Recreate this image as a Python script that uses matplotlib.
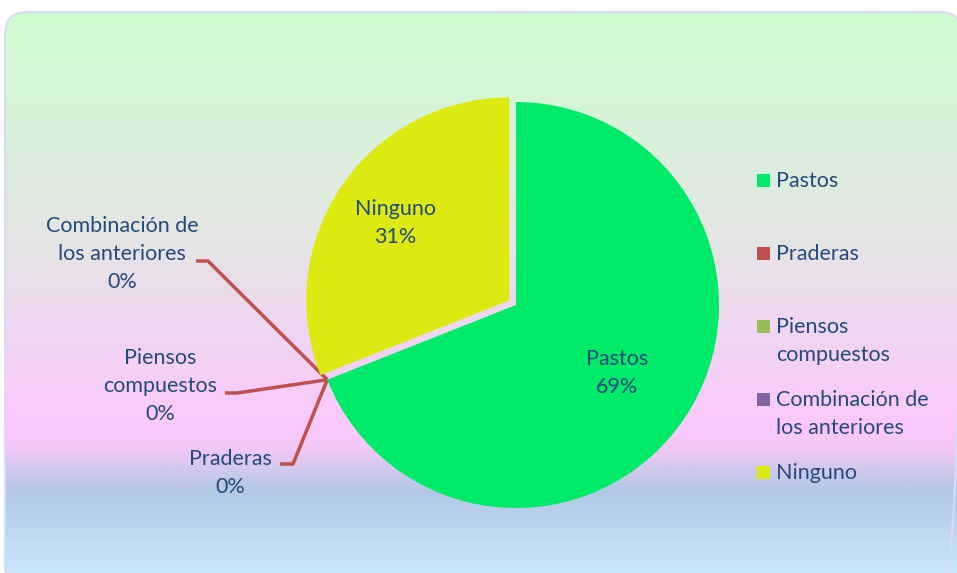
import numpy as np
import matplotlib
matplotlib.use("Agg")
import matplotlib.pyplot as plt
from matplotlib.patches import FancyBboxPatch, Rectangle
from matplotlib.colors import LinearSegmentedColormap

categories = ["Pastos", "Praderas", "Piensos\ncompuestos", "Combinación de\nlos anteriores", "Ninguno"]
values = [69, 0, 0, 0, 31]
colors = ["#00EA6A", "#C0504D", "#9BBB59", "#8064A2", "#DDEA12"]
explode = [0, 0, 0, 0, 0.04]

TEXT = "#244A7C"
FS = 15.5
LS = 1.5
plt.rcParams["font.family"] = ["Lato", "DejaVu Sans"]

W, H = 957, 573
fig = plt.figure(figsize=(W / 100, H / 100), dpi=100)

# background panel (pixel coords)
bg = fig.add_axes([0, 0, 1, 1])
bg.set_xlim(0, W)
bg.set_ylim(H, 0)
bg.axis("off")

stops = [(12, (206, 252, 208)), (100, (213, 245, 215)), (250, (230, 228, 230)),
         (330, (240, 214, 242)), (430, (252, 200, 252)), (450, (240, 200, 245)),
         (492, (178, 200, 228)), (573, (200, 230, 250))]
cmap = LinearSegmentedColormap.from_list(
    "bg", [((y - 12) / (573 - 12), tuple(c / 255 for c in col)) for y, col in stops])
grad = np.linspace(0, 1, 400).reshape(-1, 1)
im = bg.imshow(grad, cmap=cmap, extent=[5, 962, 573, 12], aspect="auto", zorder=0)
panel = FancyBboxPatch((5, 12), 957, 580, boxstyle="round,pad=0,rounding_size=22",
                       facecolor="none", edgecolor="#D8DCF4", linewidth=1.5, zorder=1)
bg.add_patch(panel)
im.set_clip_path(panel)

# pie
cx, cy, R = 516, 305, 203
ax = fig.add_axes([(cx - R) / W, 1 - (cy + R) / H, 2 * R / W, 2 * R / H])
wedges, _ = ax.pie(values, colors=colors, explode=explode, startangle=90,
                   counterclock=False, radius=1,
                   wedgeprops=dict(linewidth=0))
ax.set_xlim(-1, 1)
ax.set_ylim(-1, 1)
ax.axis("off")
for w in wedges:
    w.set_clip_on(False)

# data labels
inside = {0: 0.6, 4: 0.68}
outside = {1: ((230, 473), [(293, 464), (280, 464)]),
           2: ((160, 386), [(237, 393), (225, 393)]),
           3: ((122, 254), [(208, 261), (196, 261)])}
for i, w in enumerate(wedges):
    txt = f"{categories[i]}\n{values[i]}%"
    if i in inside:
        th = np.deg2rad((w.theta1 + w.theta2) / 2)
        ox, oy = w.center
        r = inside[i]
        ax.text(ox + r * np.cos(th), oy + r * np.sin(th), txt, ha="center", va="center",
                color=TEXT, fontsize=FS, linespacing=LS)
    else:
        th = np.deg2rad(w.theta1)
        px = cx + R * np.cos(th)
        py = cy - R * np.sin(th)
        (tx, ty), pts = outside[i]
        xs = [px] + [p[0] for p in pts]
        ys = [py] + [p[1] for p in pts]
        bg.plot(xs, ys, color="#C0504D", lw=2.5, zorder=3, solid_capstyle="butt")
        bg.text(tx, ty, txt, ha="center", va="center", color=TEXT, fontsize=FS,
                linespacing=LS, zorder=3)

# legend
for i, name in enumerate(categories):
    y = 181 + 73 * i
    bg.add_patch(Rectangle((757, y - 7), 13, 13, facecolor=colors[i], edgecolor="none", zorder=3))
    bg.text(776, y - 10, name, ha="left", va="top", color=TEXT, fontsize=FS,
            linespacing=LS, zorder=3)

fig.savefig("out.png", dpi=100)
